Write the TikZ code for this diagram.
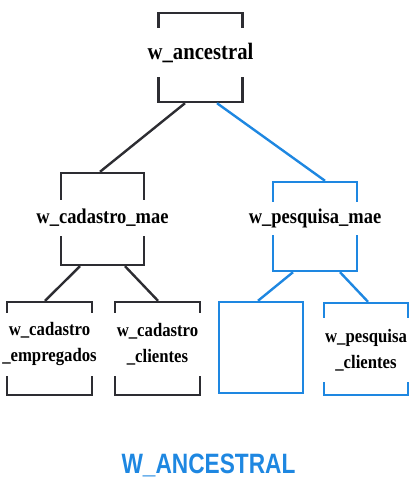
\documentclass[tikz,border=0pt]{standalone}
\usepackage{fontspec}
\setmainfont[FakeStretch=0.88]{Liberation Serif}
\newfontfamily\titlefont[FakeStretch=0.81]{Liberation Sans}
\usepackage{tikz}
\usetikzlibrary{positioning}
\definecolor{winblack}{RGB}{45,45,50}
\definecolor{winblue}{RGB}{30,135,225}
\tikzset{
    every picture/.style={line width=2.4pt},
    wbox/.style={rectangle,draw=winblack,minimum width=84pt,minimum height=91pt,inner sep=0pt},
    wlabel/.style={fill=white,inner sep=0pt,minimum width=93pt,align=center,
        font=\bfseries\fontsize{#1}{26}\selectfont}
}

\begin{document}
\begin{tikzpicture}[x=1pt,y=-1pt,
        blue box/.style={wbox,draw=winblue}]
        \useasboundingbox (0,0) rectangle (414,478);

        % Ancestral window
        \node[wbox,minimum height=89pt] (anc) at (200.5,57.5) {};
        \node[wlabel=23.5,minimum height=49pt] (ancL) at (200.5,53) {w\_ancestral};

        % Second level
        \node[wbox,minimum width=83pt,minimum height=92pt] (cad) at (102.5,219) {};
        \node[wlabel=21,minimum height=36pt] (cadL) at (102.5,218) {w\_cadastro\_mae};
        \node[blue box,minimum height=89pt] (pes) at (315,226.5) {};
        \node[wlabel=21,minimum height=33pt] (pesL) at (315,218.5) {w\_pesquisa\_mae};

        % Third level
        \node[wbox,minimum width=85pt,minimum height=93pt] (emp) at (49.5,348.5) {};
        \node[wlabel=19,minimum height=63pt] (empL) at (49.5,344) {w\_cadastro\\\_empregados};
        \node[wbox,minimum width=85pt,minimum height=93pt] (cli) at (157.5,348.5) {};
        \node[wlabel=19,minimum height=63pt] (cliL) at (157.5,344) {w\_cadastro\\\_clientes};
        \node[blue box] (vazio) at (261,347.5) {};
        \node[blue box,minimum height=92pt] (pcli) at (366,349) {};
        \node[wlabel=19,minimum height=64pt] (pcliL) at (366,350) {w\_pesquisa\\\_clientes};

        % Connectors
        \draw[winblack] ([xshift=-15.5pt]anc.south) -- ([xshift=-2.5pt]cad.north);
        \draw[winblue] ([xshift=16.5pt]anc.south) -- ([xshift=10pt]pes.north);
        \draw[winblack] ([xshift=-22.5pt]cad.south) -- ([xshift=-4.5pt]emp.north);
        \draw[winblack] ([xshift=22.5pt]cad.south) -- ([xshift=0.5pt]cli.north);
        \draw[winblue] ([xshift=-22pt]pes.south) -- ([xshift=-3pt]vazio.north);
        \draw[winblue] ([xshift=25pt]pes.south) -- ([xshift=2pt]pcli.north);

        % Title
        \node[text=winblue,font=\titlefont\bfseries\fontsize{28}{28}\selectfont] (titulo) at (208.5,465) {W\_ANCESTRAL};
\end{tikzpicture}
\end{document}
